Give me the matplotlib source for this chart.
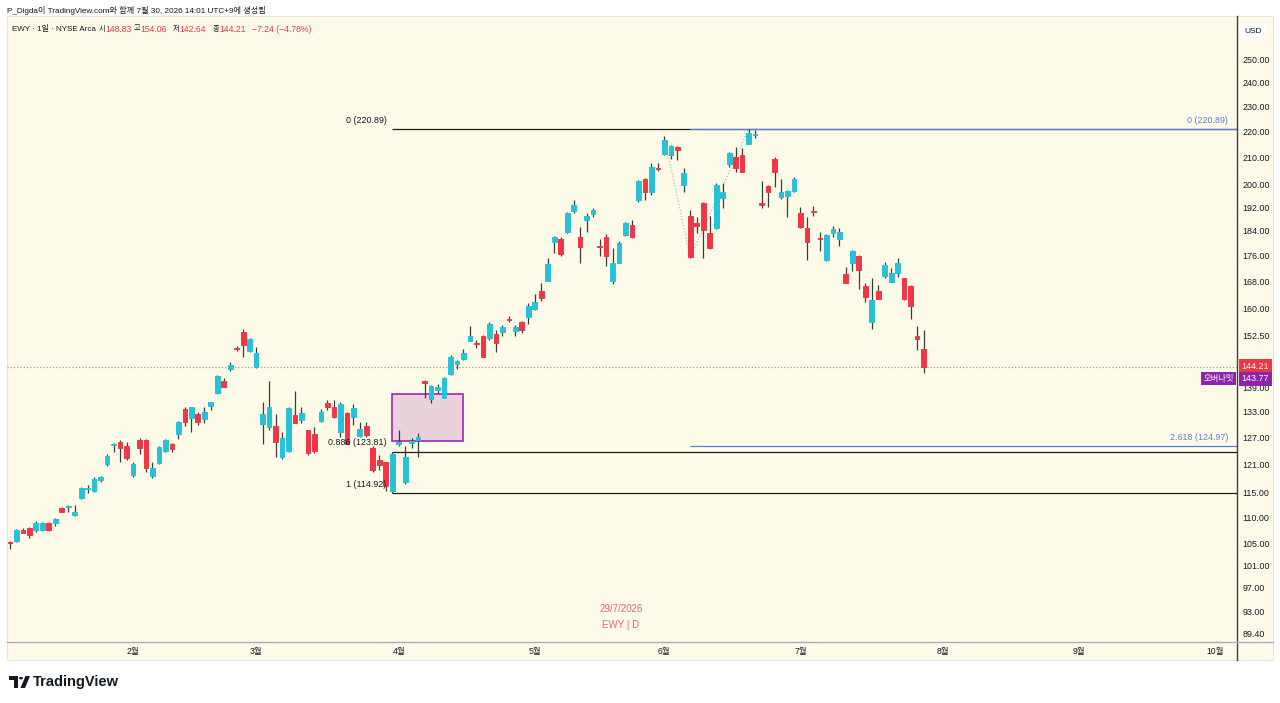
import numpy as np
import matplotlib
matplotlib.use("Agg")
import matplotlib.pyplot as plt
from matplotlib.patches import Rectangle, Polygon, Circle, FancyBboxPatch
import matplotlib.transforms as mtransforms

plt.rcParams['font.family'] = ['Liberation Sans', 'Noto Sans CJK KR', 'DejaVu Sans']

# ---------------- data (daily EWY candles, 2026-01-05 .. 2026-07-29) ----------------
opens = [105.25, 105.5, 107.5, 107.9, 107.6, 107.5, 109.0, 108.9, 111.8, 112.1,
         110.4, 113.9, 115.7, 115.4, 117.6, 121.0, 125.3, 126.0, 125.1, 118.7,
         126.3, 126.4, 118.6, 121.2, 124.0, 125.5, 127.8, 133.6, 131.6, 132.4,
         131.2, 134.3, 137.6, 140.5, 143.6, 149.1, 153.5, 148.2, 144.1, 130.1,
         129.3, 129.6, 122.7, 124.0, 132.2, 131.0, 128.7, 127.8, 130.8, 135.0,
         134.0, 128.3, 132.6, 131.8, 127.3, 129.6, 124.6, 121.9, 121.4, 115.3,
         125.5, 117.3, 125.7, 126.4, 140.4, 136.0, 138.2, 136.4, 142.2, 144.8,
         146.3, 151.1, 150.5, 152.2, 151.7, 152.8, 153.3, 157.1, 153.7, 156.2,
         157.7, 159.8, 165.0, 168.2, 180.4, 181.2, 183.7, 190.8, 181.9, 187.6,
         189.6, 179.0, 182.1, 168.2, 173.8, 182.7, 185.9, 194.5, 201.8, 197.4,
         206.0, 211.1, 210.8, 214.0, 199.8, 188.9, 186.7, 193.5, 183.3, 185.0,
         195.2, 207.5, 210.1, 210.7, 215.0, 218.5, 193.5, 199.4, 209.1, 195.5,
         195.8, 197.5, 190.0, 184.9, 190.5, 181.5, 174.6, 183.4, 181.2, 170.3,
         173.7, 176.0, 166.6, 156.3, 165.0, 169.6, 167.9, 170.7, 168.9, 166.6,
         152.3, 148.83]
highs = [105.4, 107.7, 108.0, 108.1, 109.3, 109.2, 109.1, 109.8, 112.0, 112.4,
         112.5, 116.2, 116.7, 118.2, 118.6, 123.2, 125.8, 126.3, 126.0, 121.4,
         126.8, 126.6, 121.6, 125.0, 126.7, 125.8, 130.8, 134.2, 134.2, 133.0,
         134.0, 135.4, 142.0, 141.3, 145.3, 149.6, 154.2, 151.7, 149.3, 135.4,
         140.5, 132.4, 128.3, 134.0, 137.9, 134.0, 128.8, 129.3, 133.6, 135.8,
         135.8, 135.4, 133.0, 134.8, 130.6, 130.6, 125.0, 123.0, 121.6, 123.7,
         128.7, 125.0, 126.9, 128.0, 140.8, 139.4, 139.7, 141.6, 147.2, 146.0,
         148.7, 155.1, 151.2, 152.6, 156.2, 154.0, 155.5, 157.9, 155.5, 156.6,
         161.5, 164.3, 167.4, 175.2, 182.4, 182.0, 190.3, 194.5, 185.2, 190.0,
         191.8, 181.2, 183.0, 178.4, 180.5, 186.8, 187.6, 201.6, 202.4, 207.8,
         207.8, 218.1, 214.5, 214.3, 205.8, 191.0, 188.5, 193.7, 188.8, 200.6,
         200.6, 211.8, 214.0, 213.3, 220.89, 220.4, 201.0, 199.6, 210.1, 201.8,
         197.8, 202.7, 192.0, 188.7, 192.2, 183.7, 183.0, 185.7, 184.9, 172.4,
         177.8, 176.3, 167.4, 168.9, 166.9, 174.1, 172.1, 175.2, 169.1, 166.9,
         155.2, 154.06]
lows = [104.0, 105.3, 106.9, 106.0, 107.2, 107.4, 107.4, 108.4, 111.0, 111.0,
        110.3, 113.7, 115.0, 115.2, 117.2, 120.6, 123.6, 121.6, 122.0, 118.3,
        123.3, 119.4, 118.0, 121.0, 123.6, 123.8, 126.6, 129.6, 128.3, 129.8,
        130.4, 133.5, 137.4, 138.9, 143.0, 148.2, 146.8, 148.0, 143.9, 125.6,
        128.7, 122.7, 122.1, 123.6, 130.2, 130.3, 123.0, 123.4, 130.6, 133.5,
        131.5, 127.1, 125.6, 129.8, 127.1, 127.1, 119.4, 119.8, 115.4, 114.92,
        125.0, 116.9, 124.6, 122.7, 136.4, 135.0, 137.5, 136.2, 142.0, 143.5,
        145.8, 150.9, 149.1, 146.6, 151.3, 148.1, 152.3, 156.2, 152.2, 153.2,
        155.7, 159.6, 162.3, 168.0, 176.7, 175.8, 183.4, 190.1, 173.6, 183.7,
        188.5, 175.9, 172.8, 167.1, 173.5, 182.3, 181.6, 193.9, 194.5, 196.2,
        204.8, 210.8, 209.1, 208.9, 197.1, 175.3, 183.4, 175.2, 178.2, 184.6,
        191.8, 206.4, 204.6, 204.5, 214.8, 217.2, 191.7, 192.0, 199.2, 194.8,
        188.7, 197.3, 184.9, 174.6, 188.9, 177.3, 174.3, 181.8, 179.1, 167.4,
        171.2, 165.7, 162.0, 154.2, 162.7, 168.9, 167.8, 169.4, 162.6, 157.0,
        148.6, 142.64]
closes = [105.05, 107.5, 107.0, 106.6, 109.0, 109.0, 107.5, 109.6, 111.1, 112.3,
          111.1, 115.9, 116.0, 117.8, 118.2, 122.8, 125.6, 124.5, 122.3, 121.0,
          124.5, 120.2, 120.3, 124.8, 126.3, 124.4, 130.6, 130.6, 134.0, 130.6,
          132.8, 135.2, 141.8, 139.1, 144.6, 148.9, 149.9, 151.5, 147.7, 132.4,
          134.0, 125.9, 126.8, 133.8, 130.3, 132.7, 123.4, 124.0, 133.0, 134.0,
          131.8, 134.8, 125.6, 133.8, 128.9, 127.6, 119.8, 120.9, 116.3, 123.3,
          126.0, 122.7, 126.2, 127.1, 140.0, 139.2, 139.0, 141.2, 146.6, 145.6,
          147.8, 152.4, 150.2, 146.7, 155.7, 150.3, 154.9, 156.9, 154.9, 154.1,
          160.8, 162.0, 163.0, 173.4, 182.1, 176.5, 190.1, 192.7, 178.6, 188.8,
          191.1, 178.8, 175.9, 173.8, 180.1, 186.5, 181.9, 201.0, 197.4, 206.4,
          205.7, 216.6, 214.3, 212.7, 204.0, 175.4, 185.5, 184.1, 178.4, 199.6,
          197.4, 211.4, 205.9, 204.6, 219.2, 218.9, 192.6, 197.1, 204.6, 197.3,
          197.6, 201.8, 185.2, 180.2, 190.3, 181.2, 182.5, 184.5, 183.7, 167.6,
          177.3, 171.5, 163.3, 162.5, 162.7, 173.0, 170.5, 173.8, 162.9, 160.7,
          151.45, 144.21]

# month labels at first trading day index of each month
month_idx = [19, 38, 60, 81, 101, 122, 144, 165, 186]
month_labels = ['2월', '3월', '4월', '5월', '6월', '7월', '8월', '9월', '10월']

price_ticks = [250, 240, 230, 220, 210, 200, 192, 184, 176, 168, 160, 152.5,
               139, 133, 127, 121, 115, 110, 105, 101, 97, 93, 89.4]

# Fibonacci retracement (black) and trend-based extension (blue)
fib_ret_start = 59
fib_ret_levels = [220.89, 123.81, 114.92]
fib_ret_labels = ['0 (220.89)', '0.886 (123.81)', '1 (114.92)']
fib_ext_start = 105
fib_ext_levels = [220.89, 124.97]
fib_ext_labels = ['0 (220.89)', '2.618 (124.97)']
fib_ext_points_x = [101.5, 105, 114]
fib_ext_points_y = [212.0, 175.3, 220.89]

box_x = [59, 70]
box_y = [126.2, 137.3]

last_price = 144.21
overnight_price = 143.77

# ---------------- style ----------------
W, H = 1280, 703
BG = '#fefce8'
UP = '#26c2d8'
DN = '#f23645'
WICK = '#3a3a3a'
BLUE = '#5b7fd3'
TXT = '#131722'

fig = plt.figure(figsize=(W / 100, H / 100), dpi=100)
fig.patch.set_facecolor('white')

def fx(x):
    return x / W

def fy(y):
    return 1 - y / H

# pale chart background
fig.patches.append(Rectangle((fx(7), fy(660)), fx(1273) - fx(7), fy(16) - fy(660),
                             transform=fig.transFigure, facecolor=BG,
                             edgecolor='#e6e6e0', linewidth=0.8, zorder=-5))

ax = fig.add_axes([fx(7), fy(642), fx(1237) - fx(7), fy(16) - fy(642)])
ax.set_zorder(1)
ax.set_facecolor('none')
ax.set_yscale('log')
ax.set_ylim(87.97, 270.5)
ax.set_xlim(-0.448, 189.37)
for s in ax.spines.values():
    s.set_visible(False)

ax.yaxis.tick_right()
ax.set_yticks(price_ticks)
ax.set_yticklabels([f'{t:.2f}' for t in price_ticks])
ax.yaxis.set_minor_locator(matplotlib.ticker.NullLocator())
ax.tick_params(axis='y', length=0, pad=4, labelsize=6.4, labelcolor=TXT)
ax.set_xticks(month_idx)
ax.set_xticklabels(month_labels)
ax.tick_params(axis='x', length=0, pad=3.5, labelsize=6.2, labelcolor=TXT)

O = np.array(opens); Hh = np.array(highs); L = np.array(lows); C = np.array(closes)
idx = np.arange(len(O))
cols = np.where(C >= O, UP, DN)

ax.vlines(idx, L, Hh, color=WICK, linewidth=0.9, zorder=3)
ax.bar(idx, np.abs(C - O), bottom=np.minimum(O, C), width=0.72, color=cols,
       edgecolor=cols, linewidth=0.7, zorder=4)

# last price dotted line
ax.axhline(last_price, color='#c98e92', linestyle=(0, (1, 1.6)), linewidth=0.9, zorder=2)

# rectangle zone
ax.add_patch(Rectangle((box_x[0], box_y[0]), box_x[1] - box_x[0], box_y[1] - box_y[0],
                       facecolor=(0.61, 0.15, 0.69, 0.2), edgecolor='#9c27b0',
                       linewidth=1.2, zorder=2))

xmax = ax.get_xlim()[1]
ax.hlines(fib_ret_levels, fib_ret_start, xmax, color='#1c1c1c', linewidth=0.9, zorder=2)
for lv, lb in zip(fib_ret_levels, fib_ret_labels):
    ax.annotate(lb, xy=(fib_ret_start, lv), xytext=(-4, 6.3), textcoords='offset points',
                ha='right', va='center', fontsize=6.4, color=TXT, zorder=5)

ax.hlines(fib_ext_levels, fib_ext_start, xmax, color=BLUE, linewidth=0.9, zorder=2.5)
trans_b = mtransforms.blended_transform_factory(ax.transAxes, ax.transData)
for lv, lb in zip(fib_ext_levels, fib_ext_labels):
    ax.annotate(lb, xy=(1.0, lv), xycoords=trans_b, xytext=(-6.5, 6.3),
                textcoords='offset points', ha='right', va='center', fontsize=6.4,
                color=BLUE, zorder=5)

ax.plot(fib_ext_points_x, fib_ext_points_y, color='#b8b8b8', linestyle=(0, (1, 1.5)),
        linewidth=0.9, zorder=2)

# price axis tags
ax.annotate(f'{last_price:.2f}', xy=(1.0, last_price), xycoords=trans_b,
            xytext=(3.2, 0), textcoords='offset points', ha='left', va='center',
            fontsize=6.4, color='white', annotation_clip=False, zorder=10,
            bbox=dict(boxstyle='square,pad=0.3', facecolor=DN, edgecolor='none'))
ax.annotate(f'{overnight_price:.2f}', xy=(1.0, overnight_price), xycoords=trans_b,
            xytext=(3.2, -7.6), textcoords='offset points', ha='left', va='center',
            fontsize=6.4, color='white', annotation_clip=False, zorder=10,
            bbox=dict(boxstyle='square,pad=0.3', facecolor='#8e24aa', edgecolor='none'))
ax.annotate('오버나잇', xy=(1.0, overnight_price), xycoords=trans_b,
            xytext=(-2.2, -7.6), textcoords='offset points', ha='right', va='center',
            fontsize=6.0, color='white', annotation_clip=False, zorder=10,
            bbox=dict(boxstyle='square,pad=0.3', facecolor='#8e24aa', edgecolor='none'))

# axis separators
fig.add_artist(plt.Line2D([fx(1237), fx(1237)], [fy(16), fy(660)], transform=fig.transFigure,
                          color='#3a3d45', linewidth=1.0, zorder=2))
fig.add_artist(plt.Line2D([fx(7), fx(1273)], [fy(642), fy(642)], transform=fig.transFigure,
                          color='#a8abb3', linewidth=1.0, zorder=2))

# USD box
fig.patches.append(FancyBboxPatch((fx(1240), fy(39)), fx(26), fy(0) - fy(15),
                                  boxstyle='round,pad=0,rounding_size=0.004',
                                  transform=fig.transFigure, facecolor='white',
                                  edgecolor='none', zorder=1))
fig.text(fx(1253), fy(31.5), 'USD', ha='center', va='center', fontsize=6, color=TXT,
         zorder=6)

# header
fig.text(fx(7), fy(10), 'P_Digda이 TradingView.com와 함께 7월 30, 2026 14:01 UTC+9에 생성됨',
         ha='left', va='center', fontsize=5.85, color=TXT)
fig.text(fx(12), fy(29), 'EWY · 1일 · NYSE Arca', ha='left', va='center', fontsize=5.8,
         color=TXT, zorder=6)
legend_parts = [(99, '시', TXT, 5.2), (105, '148.83', DN, 6.2), (134, '고', TXT, 5.2),
                (140, '154.06', DN, 6.2), (173, '저', TXT, 5.2), (179, '142.64', DN, 6.2),
                (213, '종', TXT, 5.2), (219, '144.21', DN, 6.2),
                (252, '−7.24 (−4.78%)', DN, 6.2)]
for x, t, c, fs in legend_parts:
    fig.text(fx(x), fy(29), t, ha='left', va='center', fontsize=fs, color=c, zorder=6)

# watermark
fig.text(fx(621), fy(609), '29/7/2026', ha='center', va='center', fontsize=7, color='#ee6372')
fig.text(fx(621), fy(625), 'EWY | D', ha='center', va='center', fontsize=7, color='#ee6372')

# TradingView footer logo
logo_col = '#131722'
fig.patches.append(Polygon([(fx(9), fy(676)), (fx(18), fy(676)), (fx(18), fy(688)),
                            (fx(14), fy(688)), (fx(14), fy(680)), (fx(9), fy(680))],
                           closed=True, transform=fig.transFigure, facecolor=logo_col,
                           edgecolor='none'))
fig.patches.append(Circle((fx(21), fy(678.2)), 2.1 / W, transform=fig.transFigure,
                          facecolor=logo_col, edgecolor='none'))
fig.patches.append(Polygon([(fx(25.5), fy(676)), (fx(30), fy(676)), (fx(25), fy(688)),
                            (fx(20.5), fy(688))], closed=True, transform=fig.transFigure,
                           facecolor=logo_col, edgecolor='none'))
fig.text(fx(33), fy(682), 'TradingView', ha='left', va='center', fontsize=10.5,
         fontweight='bold', color=logo_col)

fig.savefig('out.png', dpi=100, facecolor='white')
